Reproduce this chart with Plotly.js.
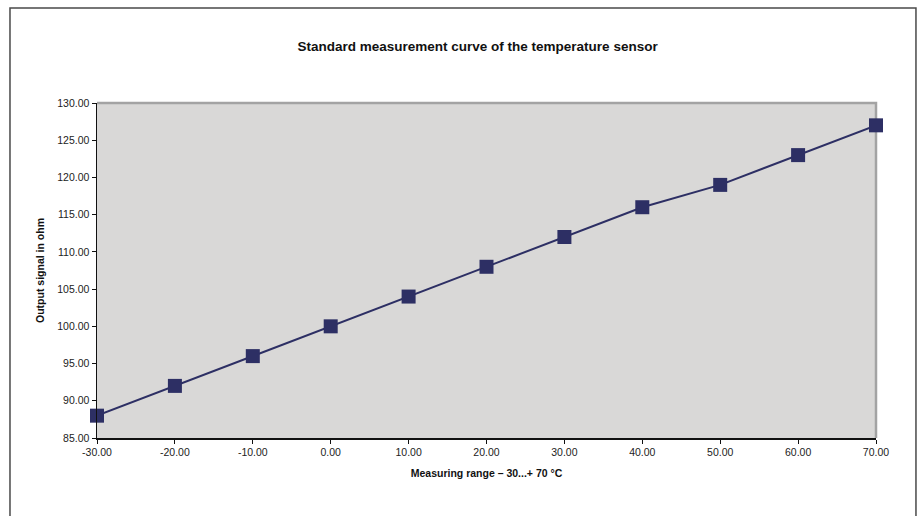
<!DOCTYPE html>
<html>
<head>
<meta charset="utf-8">
<script src="https://cdn.plot.ly/plotly-3.0.1.min.js"></script>
<style>
html,body{margin:0;padding:0;background:#fff;}
#chart{width:922px;height:516px;}
</style>
</head>
<body>
<div id="chart"></div>
<script>
const temperatures = [-30, -20, -10, 0, 10, 20, 30, 40, 50, 60, 70];
const resistance = [88, 92, 96, 100, 104, 108, 112, 116, 119, 123, 127];
const xTicks = [-30, -20, -10, 0, 10, 20, 30, 40, 50, 60, 70];
const yTicks = [85, 90, 95, 100, 105, 110, 115, 120, 125, 130];

const font = "Liberation Sans, Arial, Helvetica, sans-serif";
const markColor = "#2d2f64";

const trace = {
  x: temperatures,
  y: resistance,
  type: "scatter",
  mode: "lines+markers",
  line: {color: markColor, width: 2},
  marker: {symbol: "square", size: 14, color: markColor},
  cliponaxis: false,
  hoverinfo: "x+y"
};

const layout = {
  width: 922,
  height: 516,
  margin: {l: 97, r: 46, t: 103, b: 78},
  paper_bgcolor: "#ffffff",
  plot_bgcolor: "#d9d8d7",
  showlegend: false,
  title: {
    text: "<b>Standard measurement curve of the temperature sensor</b>",
    font: {family: font, size: 13.5, color: "#111"},
    x: 0.518, xref: "container", xanchor: "center",
    y: 0.911, yref: "container", yanchor: "middle"
  },
  xaxis: {
    range: [-30, 70],
    tickvals: xTicks,
    ticktext: xTicks.map(v => v.toFixed(2)),
    showgrid: false,
    zeroline: false,
    showline: true,
    linecolor: "#111",
    linewidth: 1.5,
    ticks: "outside",
    ticklen: 4,
    tickcolor: "#111",
    tickfont: {family: font, size: 10.5, color: "#222"},
    title: {
      text: "<b>Measuring range – 30...+ 70 °C</b>",
      font: {family: font, size: 10.5, color: "#111"},
      standoff: 12
    }
  },
  yaxis: {
    range: [85, 130],
    tickvals: yTicks,
    ticktext: yTicks.map(v => v.toFixed(2)),
    showgrid: false,
    zeroline: false,
    showline: true,
    linecolor: "#111",
    linewidth: 1.5,
    ticks: "outside",
    ticklen: 4,
    tickcolor: "#111",
    tickfont: {family: font, size: 10.5, color: "#222"},
    title: {
      text: "<b>Output signal in ohm</b>",
      font: {family: font, size: 10.5, color: "#111"},
      standoff: 10
    }
  },
  shapes: [
    {type: "path", xref: "paper", yref: "paper",
     path: "M 0 1 L 1 1 L 1 0",
     line: {color: "#a3a3a3", width: 2.5}, layer: "below"},
    {type: "path", xref: "paper", yref: "paper",
     path: "M -0.1117 -0.4 L -0.1117 1.2836 L 1.0513 1.2836 L 1.0513 -0.4",
     line: {color: "#4a4a4a", width: 1.5}}
  ]
};

Plotly.newPlot("chart", [trace], layout, {displayModeBar: false, staticPlot: true});
</script>
</body>
</html>
